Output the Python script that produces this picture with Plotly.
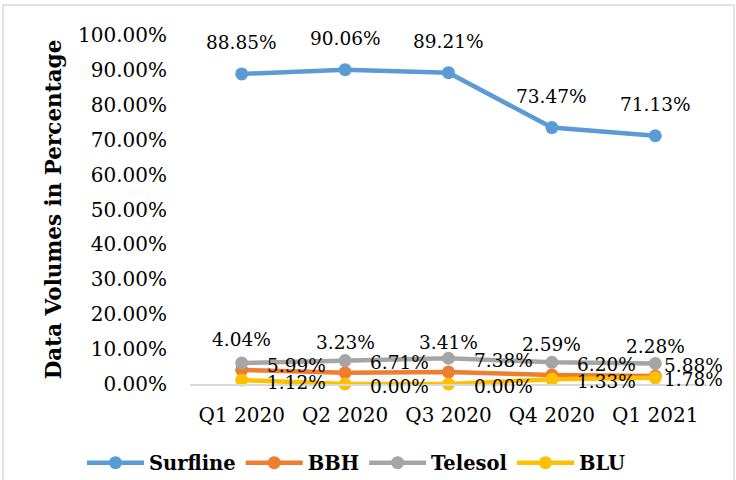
import plotly.graph_objects as go

categories = ["Q1 2020", "Q2 2020", "Q3 2020", "Q4 2020", "Q1 2021"]
surfline = [88.85, 90.06, 89.21, 73.47, 71.13]
bbh = [4.04, 3.23, 3.41, 2.59, 2.28]
telesol = [5.99, 6.71, 7.38, 6.20, 5.88]
blu = [1.12, 0.00, 0.00, 1.33, 1.78]
y_ticks = [0, 10, 20, 30, 40, 50, 60, 70, 80, 90, 100]
y_tick_labels = [f"{v:.2f}%" for v in y_ticks]

# name, values, colour, label placement ("above" / "right")
series = [
    ("Surfline", surfline, "#5B9BD5", "above"),
    ("BBH", bbh, "#ED7D31", "above"),
    ("Telesol", telesol, "#A5A5A5", "right"),
    ("BLU", blu, "#FFC000", "right"),
]

FONT = "DejaVu Serif"
LABEL_SIZE = 18.5
L, R, T, B = 190, 29, 35, 96
W, H = 736, 480
PW, PH = W - L - R, H - T - B

fig = go.Figure()
annotations = []
for name, vals, color, place in series:
    fig.add_trace(go.Scatter(
        x=categories, y=vals, name=name, mode="lines+markers",
        line=dict(color=color, width=4.5),
        marker=dict(color=color, size=13),
        cliponaxis=False,
    ))
    for i, (c, v) in enumerate(zip(categories, vals)):
        if place == "above":
            annotations.append(dict(
                x=c, y=v, xref="x", yref="y", text=f"{v:.2f}%",
                showarrow=False, xanchor="center", yanchor="middle",
                yshift=31 if name == "Surfline" else 30,
                font=dict(family=FONT, size=LABEL_SIZE, color="#000000")))
        else:
            last = i == len(categories) - 1
            annotations.append(dict(
                x=c, y=v, xref="x", yref="y", text=f"{v:.2f}%",
                showarrow=False, xanchor="left", yanchor="middle",
                xshift=7 if last else 23, yshift=-2,
                font=dict(family=FONT, size=LABEL_SIZE, color="#000000")))

fig.update_layout(
    width=W, height=H,
    margin=dict(l=L, r=R, t=T, b=B, autoexpand=False),
    paper_bgcolor="white", plot_bgcolor="white",
    font=dict(family=FONT, size=20, color="#000000"),
    showlegend=True,
    legend=dict(
        orientation="h", xref="paper", yref="paper",
        x=(82 - L) / PW, xanchor="left",
        y=-(463 - (H - B)) / PH, yanchor="middle",
        font=dict(family=FONT, size=19.5, color="#000000", weight="bold"),
        itemwidth=57, tracegroupgap=0, bgcolor="rgba(0,0,0,0)",
    ),
    xaxis=dict(
        type="category", range=[-0.5, 4.5],
        showgrid=False, showline=True, linecolor="#D9D9D9", linewidth=1.5,
        ticks="", ticklabelstandoff=12,
        tickfont=dict(family=FONT, size=20),
        zeroline=False,
    ),
    yaxis=dict(
        range=[0, 100], tickvals=y_ticks, ticktext=y_tick_labels,
        showgrid=False, showline=False, zeroline=False, ticks="",
        ticklabelstandoff=22,
        tickfont=dict(family=FONT, size=20),
        title=dict(text="<b>Data Volumes in Percentage</b>", standoff=10,
                   font=dict(family=FONT, size=21.5)),
    ),
    annotations=annotations,
    shapes=[dict(type="rect", xref="paper", yref="paper",
                 x0=(3 - L) / PW, x1=(734 - L) / PW,
                 y0=-(500 - (H - B)) / PH, y1=(H - B - 5) / PH,
                 line=dict(color="#D9D9D9", width=1.5), layer="below")],
)

fig.write_html("out.html", config={"displayModeBar": False},
               post_script="document.body.style.margin='0';document.body.style.overflow='hidden';")
